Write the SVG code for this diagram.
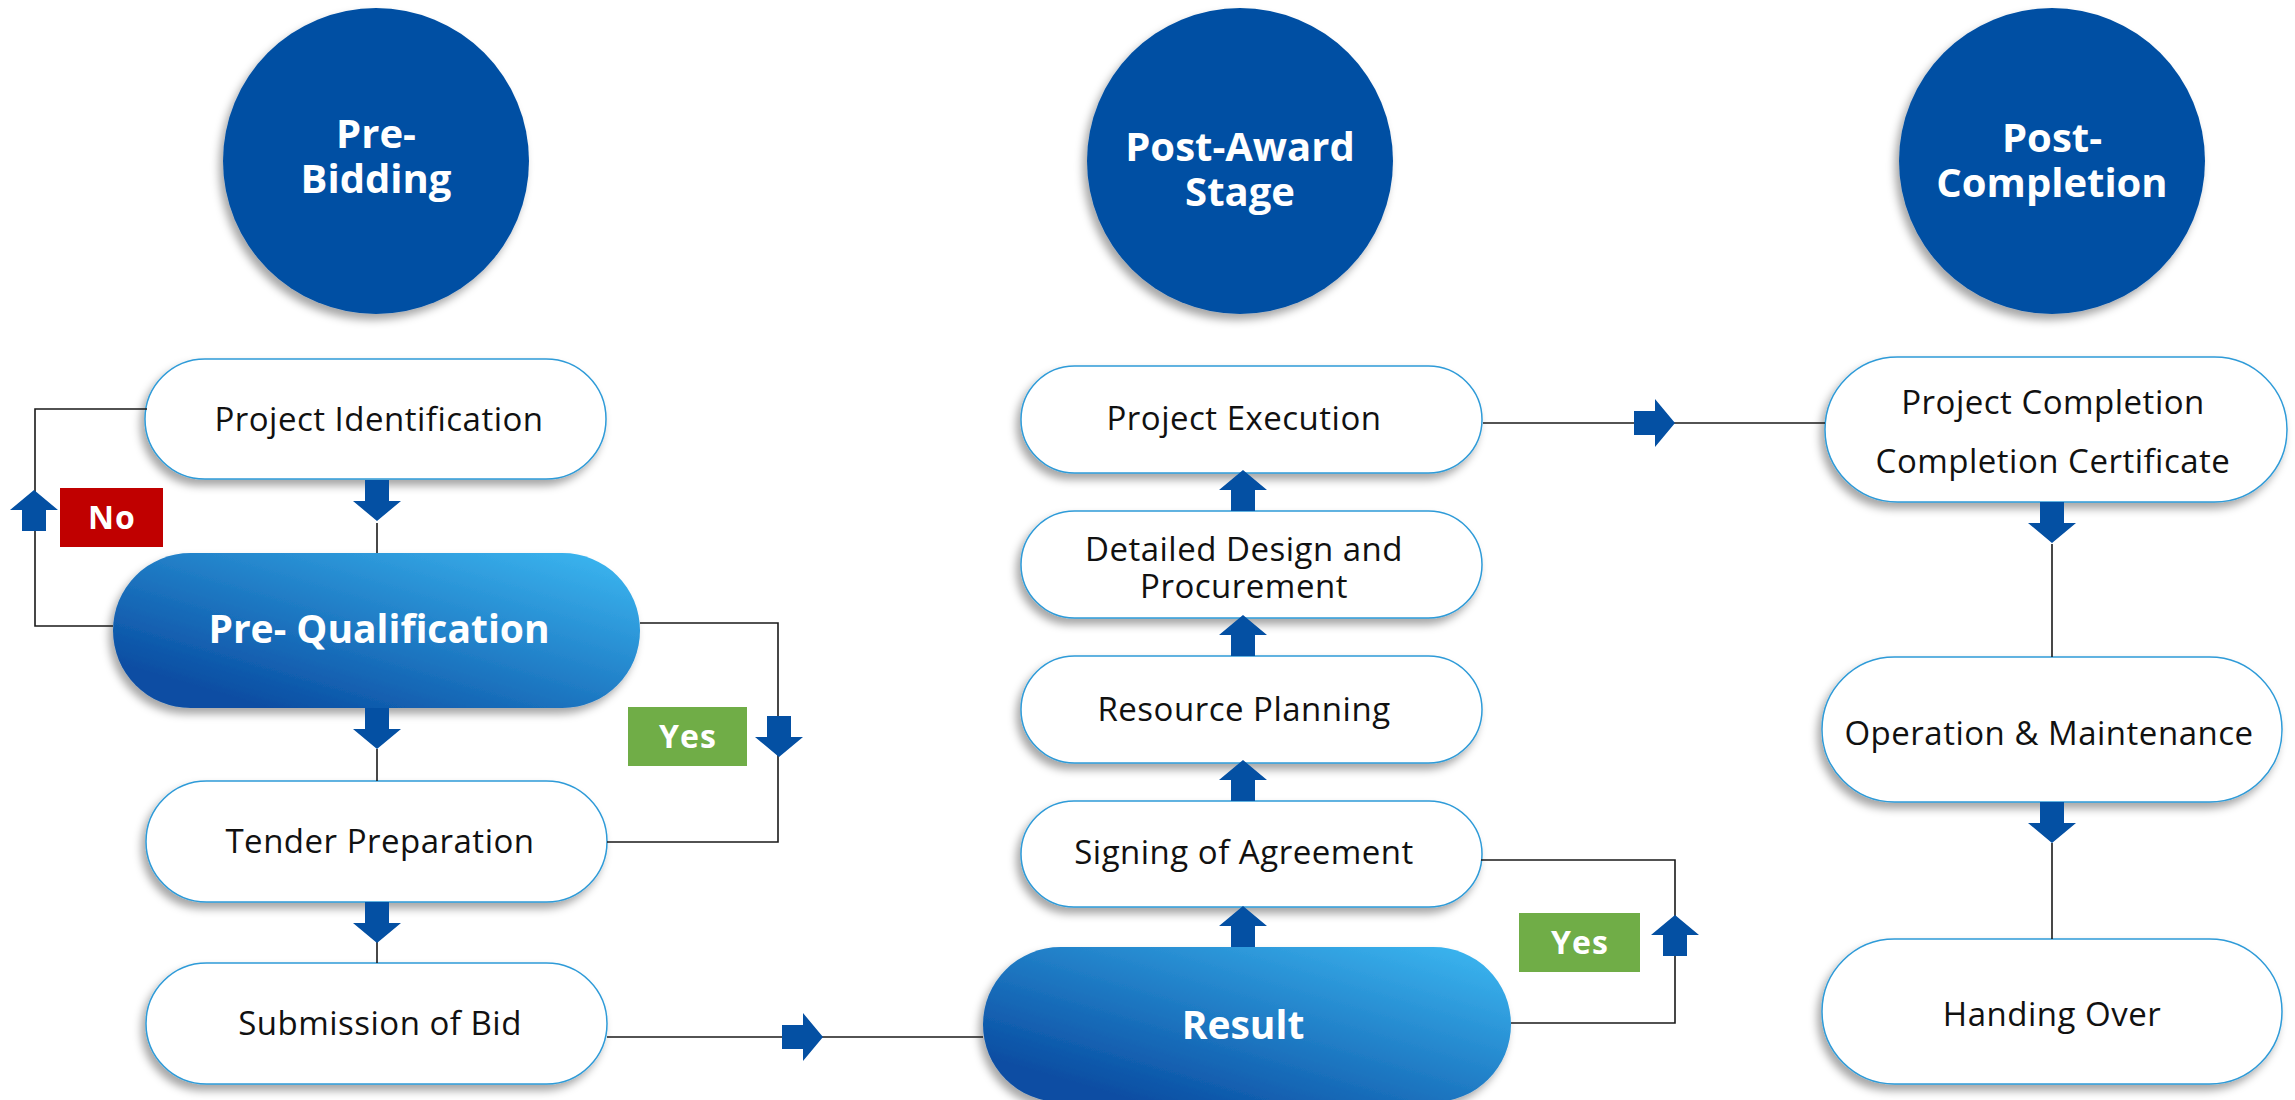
<svg xmlns="http://www.w3.org/2000/svg" xmlns:xlink="http://www.w3.org/1999/xlink" width="2295" height="1100" viewBox="0 0 2295 1100">
<style>
.pill{fill:#fff;stroke:#2f9bd8;stroke-width:1.5;filter:url(#sh)}
.grad{fill:url(#g);filter:url(#sh)}
.circ{fill:#0450a3;filter:url(#sh)}
.lbl{font-family:"Open Sans","Liberation Sans",sans-serif;font-size:33px;letter-spacing:0.5px;fill:#111;text-anchor:middle}
.bold{font-family:"Open Sans","Liberation Sans",sans-serif;font-weight:700;fill:#fff;text-anchor:middle}
.ct{font-size:40px}
.tag{font-size:32px;letter-spacing:1px}
.ln{fill:none;stroke:#1a1a1a;stroke-width:1.6}
.arr{fill:#0450a3}
</style>
<defs>
<linearGradient id="g" x1="0" y1="1" x2="1" y2="0">
<stop offset="0.15" stop-color="#0a4ea3"/>
<stop offset="1" stop-color="#3dbaf3"/>
</linearGradient>
<filter id="sh" x="-10%" y="-10%" width="120%" height="130%">
<feDropShadow dx="-4" dy="6" stdDeviation="4" flood-color="#000" flood-opacity="0.35"/>
</filter>
<path id="ad" d="M-12,0 H12 V21 H24 L0,41 L-24,21 H-12 Z"/>
</defs>

<g id="pre-bidding">
<circle class="circ" cx="376" cy="161" r="153"/>
<text class="bold ct" x="376" y="148">Pre-</text>
<text class="bold ct" x="376" y="193">Bidding</text>
</g>
<g id="post-award">
<circle class="circ" cx="1240" cy="161" r="153"/>
<text class="bold ct" x="1240" y="161">Post-Award</text>
<text class="bold ct" x="1240" y="206">Stage</text>
</g>
<g id="post-completion">
<circle class="circ" cx="2052" cy="161" r="153"/>
<text class="bold ct" x="2052" y="152">Post-</text>
<text class="bold ct" x="2052" y="197">Completion</text>
</g>

<g id="project-identification">
<rect class="pill" x="145" y="359" width="461" height="120" rx="60"/>
<text class="lbl" x="379" y="431">Project Identification</text>
</g>
<g id="pre-qualification">
<rect class="grad" x="113" y="553" width="527" height="155" rx="77.5"/>
<text class="bold" x="379" y="643" font-size="39">Pre- Qualification</text>
</g>
<g id="tender-preparation">
<rect class="pill" x="146" y="781" width="461" height="121" rx="60.5"/>
<text class="lbl" x="380" y="853">Tender Preparation</text>
</g>
<g id="submission-of-bid">
<rect class="pill" x="146" y="963" width="461" height="121" rx="60.5"/>
<text class="lbl" x="380" y="1035">Submission of Bid</text>
</g>

<g id="project-execution">
<rect class="pill" x="1021" y="366" width="461" height="107" rx="53.5"/>
<text class="lbl" x="1244" y="430">Project Execution</text>
</g>
<g id="detailed-design">
<rect class="pill" x="1021" y="511" width="461" height="107" rx="53.5"/>
<text class="lbl" x="1244" y="561">Detailed Design and</text>
<text class="lbl" x="1244" y="598">Procurement</text>
</g>
<g id="resource-planning">
<rect class="pill" x="1021" y="656" width="461" height="107" rx="53.5"/>
<text class="lbl" x="1244" y="721">Resource Planning</text>
</g>
<g id="signing-of-agreement">
<rect class="pill" x="1021" y="801" width="461" height="106" rx="53"/>
<text class="lbl" x="1244" y="864">Signing of Agreement</text>
</g>
<g id="result">
<rect class="grad" x="983" y="947" width="528" height="155" rx="77.5"/>
<text class="bold" x="1243" y="1039" font-size="39">Result</text>
</g>

<g id="project-completion">
<rect class="pill" x="1825" y="357" width="462" height="145" rx="72.5"/>
<text class="lbl" x="2053" y="414">Project Completion</text>
<text class="lbl" x="2053" y="473">Completion Certificate</text>
</g>
<g id="operation-maintenance">
<rect class="pill" x="1822" y="657" width="460" height="145" rx="72.5"/>
<text class="lbl" x="2049" y="745">Operation &amp; Maintenance</text>
</g>
<g id="handing-over">
<rect class="pill" x="1822" y="939" width="460" height="145" rx="72.5"/>
<text class="lbl" x="2052" y="1026">Handing Over</text>
</g>

<g id="connectors">
<path class="ln" d="M377,523 V553"/>
<path class="ln" d="M377,749 V781"/>
<path class="ln" d="M377,942 V963"/>
<path class="ln" d="M147,409 H35 V626 H113"/>
<path class="ln" d="M640,623 H778 V842 H607"/>
<path class="ln" d="M607,1037 H983"/>
<path class="ln" d="M1511,1023 H1675 V860 H1481"/>
<path class="ln" d="M1483,423 H1825"/>
<path class="ln" d="M2052,544 V657"/>
<path class="ln" d="M2052,843 V939"/>

<use class="arr" xlink:href="#ad" transform="translate(377,480)"/>
<use class="arr" xlink:href="#ad" transform="translate(377,708)"/>
<use class="arr" xlink:href="#ad" transform="translate(377,902)"/>
<use class="arr" xlink:href="#ad" transform="translate(779,716)"/>
<use class="arr" xlink:href="#ad" transform="translate(34,531) rotate(180)"/>
<use class="arr" xlink:href="#ad" transform="translate(782,1037) rotate(-90)"/>
<use class="arr" xlink:href="#ad" transform="translate(1243,947) rotate(180)"/>
<use class="arr" xlink:href="#ad" transform="translate(1243,801) rotate(180)"/>
<use class="arr" xlink:href="#ad" transform="translate(1243,656) rotate(180)"/>
<use class="arr" xlink:href="#ad" transform="translate(1243,511) rotate(180)"/>
<use class="arr" xlink:href="#ad" transform="translate(1675,956) rotate(180)"/>
<use class="arr" xlink:href="#ad" transform="translate(1634,423) rotate(-90)"/>
<use class="arr" xlink:href="#ad" transform="translate(2052,502)"/>
<use class="arr" xlink:href="#ad" transform="translate(2052,802)"/>

<g id="label-no">
<rect x="60" y="488" width="103" height="59" fill="#c00000"/>
<text class="bold tag" x="112" y="529">No</text>
</g>
<g id="label-yes-1">
<rect x="628" y="707" width="119" height="59" fill="#70ad47"/>
<text class="bold tag" x="688" y="748">Yes</text>
</g>
<g id="label-yes-2">
<rect x="1519" y="913" width="121" height="59" fill="#70ad47"/>
<text class="bold tag" x="1580" y="954">Yes</text>
</g>
</g>
</svg>
